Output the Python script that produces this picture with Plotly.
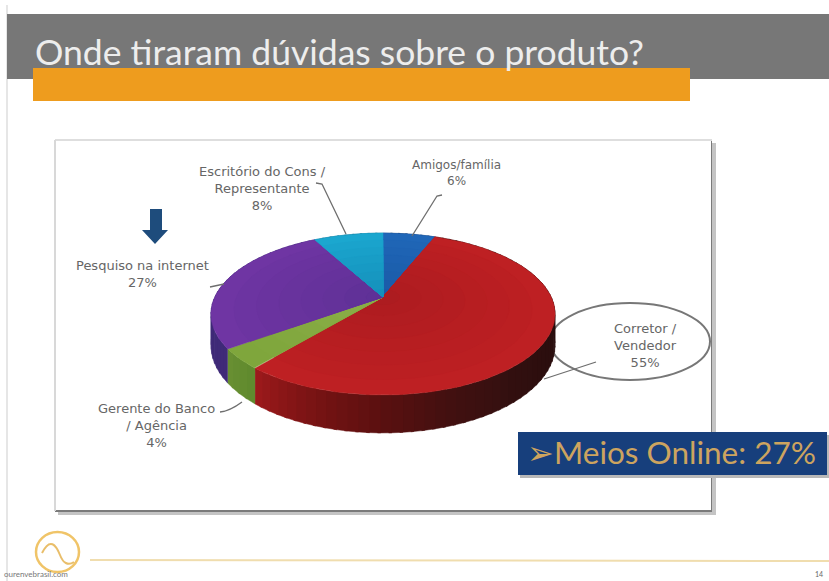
import numpy as np
import plotly.graph_objects as go

# ---- data ----
categories = ["Amigos/família", "Corretor / Vendedor", "Gerente do Banco / Agência",
              "Pesquiso na internet", "Escritório do Cons / Representante"]
values = [6, 55, 4, 27, 8]
top_edge = ["#2067B8", "#BE2023", "#7FA63C", "#6F35A3", "#1BA7CF"]
top_centre = ["#1A5AA6", "#AC1C20", "#8DB04A", "#5E3196", "#158FBA"]
side_stops = [["#123E78", "#123E78"],
              ["#2A0E0E", "#2A0E0E", "#2A0E0E", "#2A0E0E", "#2A0E0E", "#2C0E0E",
               "#331010", "#411010", "#5A1010", "#7A1414", "#9E1A1C"],
              ["#5F8A2E", "#6A9033"],
              ["#3F2A78", "#3F2A78"],
              ["#0F6F90", "#0F6F90"]]
title_text = "Onde tiraram dúvidas sobre o produto?"
callout_text = "➢Meios Online: 27%"

# ---- projection of the tilted pie ----
CX, CY, A, B, P, H = 383, 297, 172 * 0.978, 77.4, -0.21, 30


def project(t, r=1.0, h=0.0):
    u, v = r * np.sin(t), -r * np.cos(t)
    w = 1 + P * v
    return CX + A * u / w, CY + (B * v + H * h) / w


def hex2rgb(c):
    return np.array([int(c[i:i + 2], 16) for i in (1, 3, 5)], float)


def mix(c0, c1, f):
    m = hex2rgb(c0) * (1 - f) + hex2rgb(c1) * f
    return "rgb(%d,%d,%d)" % tuple(m)


def ramp(stops, f):
    pos = f * (len(stops) - 1)
    i = min(int(pos), len(stops) - 2)
    return mix(stops[i], stops[i + 1], pos - i)


fig = go.Figure()


def poly(xs, ys, color):
    fig.add_trace(go.Scatter(x=xs, y=ys, mode="lines", fill="toself", fillcolor=color,
                             line=dict(width=0.5, color=color), hoverinfo="skip",
                             showlegend=False))


ends = np.cumsum(values) / np.sum(values) * 2 * np.pi
starts = np.concatenate([[0], ends[:-1]])

# sides
for k, (s, e) in enumerate(zip(starts, ends)):
    n = max(2, int((e - s) / np.radians(3)))
    edges = np.linspace(s, e, n + 1)
    for i in range(n):
        t = np.linspace(edges[i], min(edges[i + 1] + 0.015, e), 4)
        x0, y0 = project(t)
        x1, y1 = project(t[::-1], h=1)
        poly(np.r_[x0, x1], np.r_[y0, y1], ramp(side_stops[k], (i + .5) / n))

# tops
for k, (s, e) in enumerate(zip(starts, ends)):
    t = np.linspace(s, e, 120)
    for r in np.linspace(1, 0.1, 8):
        x, y = project(t, r)
        poly(np.r_[CX, x, CX], np.r_[CY, y, CY], mix(top_centre[k], top_edge[k], r))

GREY = "#6E6E6E"


def rect(x0, y0, x1, y1, color, layer="below"):
    return dict(type="rect", x0=x0, y0=y0, x1=x1, y1=y1, fillcolor=color,
                line=dict(width=0), layer=layer)


def line(path, color=GREY, w=1.3, layer="above"):
    return dict(type="path", path=path, line=dict(color=color, width=w), layer=layer)


shapes = [
    rect(6, 5, 8, 581, "#E6E6E6"),
    rect(7, 14, 829, 79, "#777777"),
    rect(33, 68, 690, 101, "#EE9C1E"),
    rect(58, 143, 716, 515, "#C4C4C4"),
    rect(55, 140, 712, 512, "#7A7A7A"),
    rect(56, 141, 711, 510, "#FFFFFF"),
    dict(type="line", x0=55, y0=140, x1=712, y1=140, line=dict(color="#DEDEDE", width=2), layer="below"),
    dict(type="line", x0=55, y0=140, x1=55, y1=511, line=dict(color="#D8D8D8", width=2), layer="below"),
    # callout ring (passes behind the pie)
    dict(type="circle", x0=550, y0=303, x1=710, y1=380,
         line=dict(color="#777777", width=2), layer="below"),
    # leaders
    line("M 412 236 L 437 196 L 442 195"),
    line("M 346 234 L 322 184 L 316 183"),
    line("M 210 287 L 224 284"),
    line("M 220 412 Q 230 411 242 402"),
    line("M 544 379 L 596 362"),
    # arrow
    dict(type="path", path="M 150 209 L 162 209 L 162 230 L 168 230 L 155 244 L 142 230 L 150 230 Z",
         fillcolor="#1E4C7C", line=dict(width=0), layer="above"),
    # blue box
    rect(520, 435, 829, 478, "#B8B8B8", "above"),
    rect(518, 432, 827, 475, "#173F7C", "above"),
    # footer
    dict(type="line", x0=90, y0=560, x1=829, y1=561, line=dict(color="#F0DDAE", width=2), layer="below"),
    dict(type="circle", x0=36, y0=532, x1=79, y1=572, line=dict(color="#F0C468", width=2.5), layer="below"),
    dict(type="path", path="M 42 553 C 50 537, 56 545, 60 555 C 63 563, 68 566, 74 562",
         line=dict(color="#E9BE6A", width=2), layer="below"),
]


def note(x, y, text, size=13, color="#666666", anchor="center", family="DejaVu Sans"):
    return dict(x=x, y=y, xref="x", yref="y", text=text, showarrow=False, xanchor=anchor,
                yanchor="middle", font=dict(family=family, size=size, color=color), align="center")


annotations = [
    note(33, 51, title_text, 35.5, "#EDEDED", "left", "Lato"),
    note(262, 188, "Escritório do Cons /<br>Representante<br>8%"),
    note(456, 173, "Amigos/família<br>6%", 12),
    note(142, 274, "Pesquiso na internet<br>27%"),
    note(156, 425, "Gerente do Banco<br>/ Agência<br>4%"),
    note(645, 345, "Corretor /<br>Vendedor<br>55%"),
    note(525, 452, callout_text, 31.5, "#CDA45F", "left", "Lato"),
    note(2, 574, "ourenvebrasil.com", 8, "#777777", "left", "Lato"),
    note(813, 574, "14", 7, "#666666", "left", "Lato"),
]

fig.update_layout(
    width=829, height=581, margin=dict(l=0, r=0, t=0, b=0),
    paper_bgcolor="white", plot_bgcolor="white", showlegend=False,
    xaxis=dict(range=[0, 829], visible=False, fixedrange=True),
    yaxis=dict(range=[581, 0], visible=False, fixedrange=True),
    shapes=shapes, annotations=annotations,
)
fig.write_html("out.html", config=dict(displayModeBar=False),
               post_script="document.body.style.margin='0';")
